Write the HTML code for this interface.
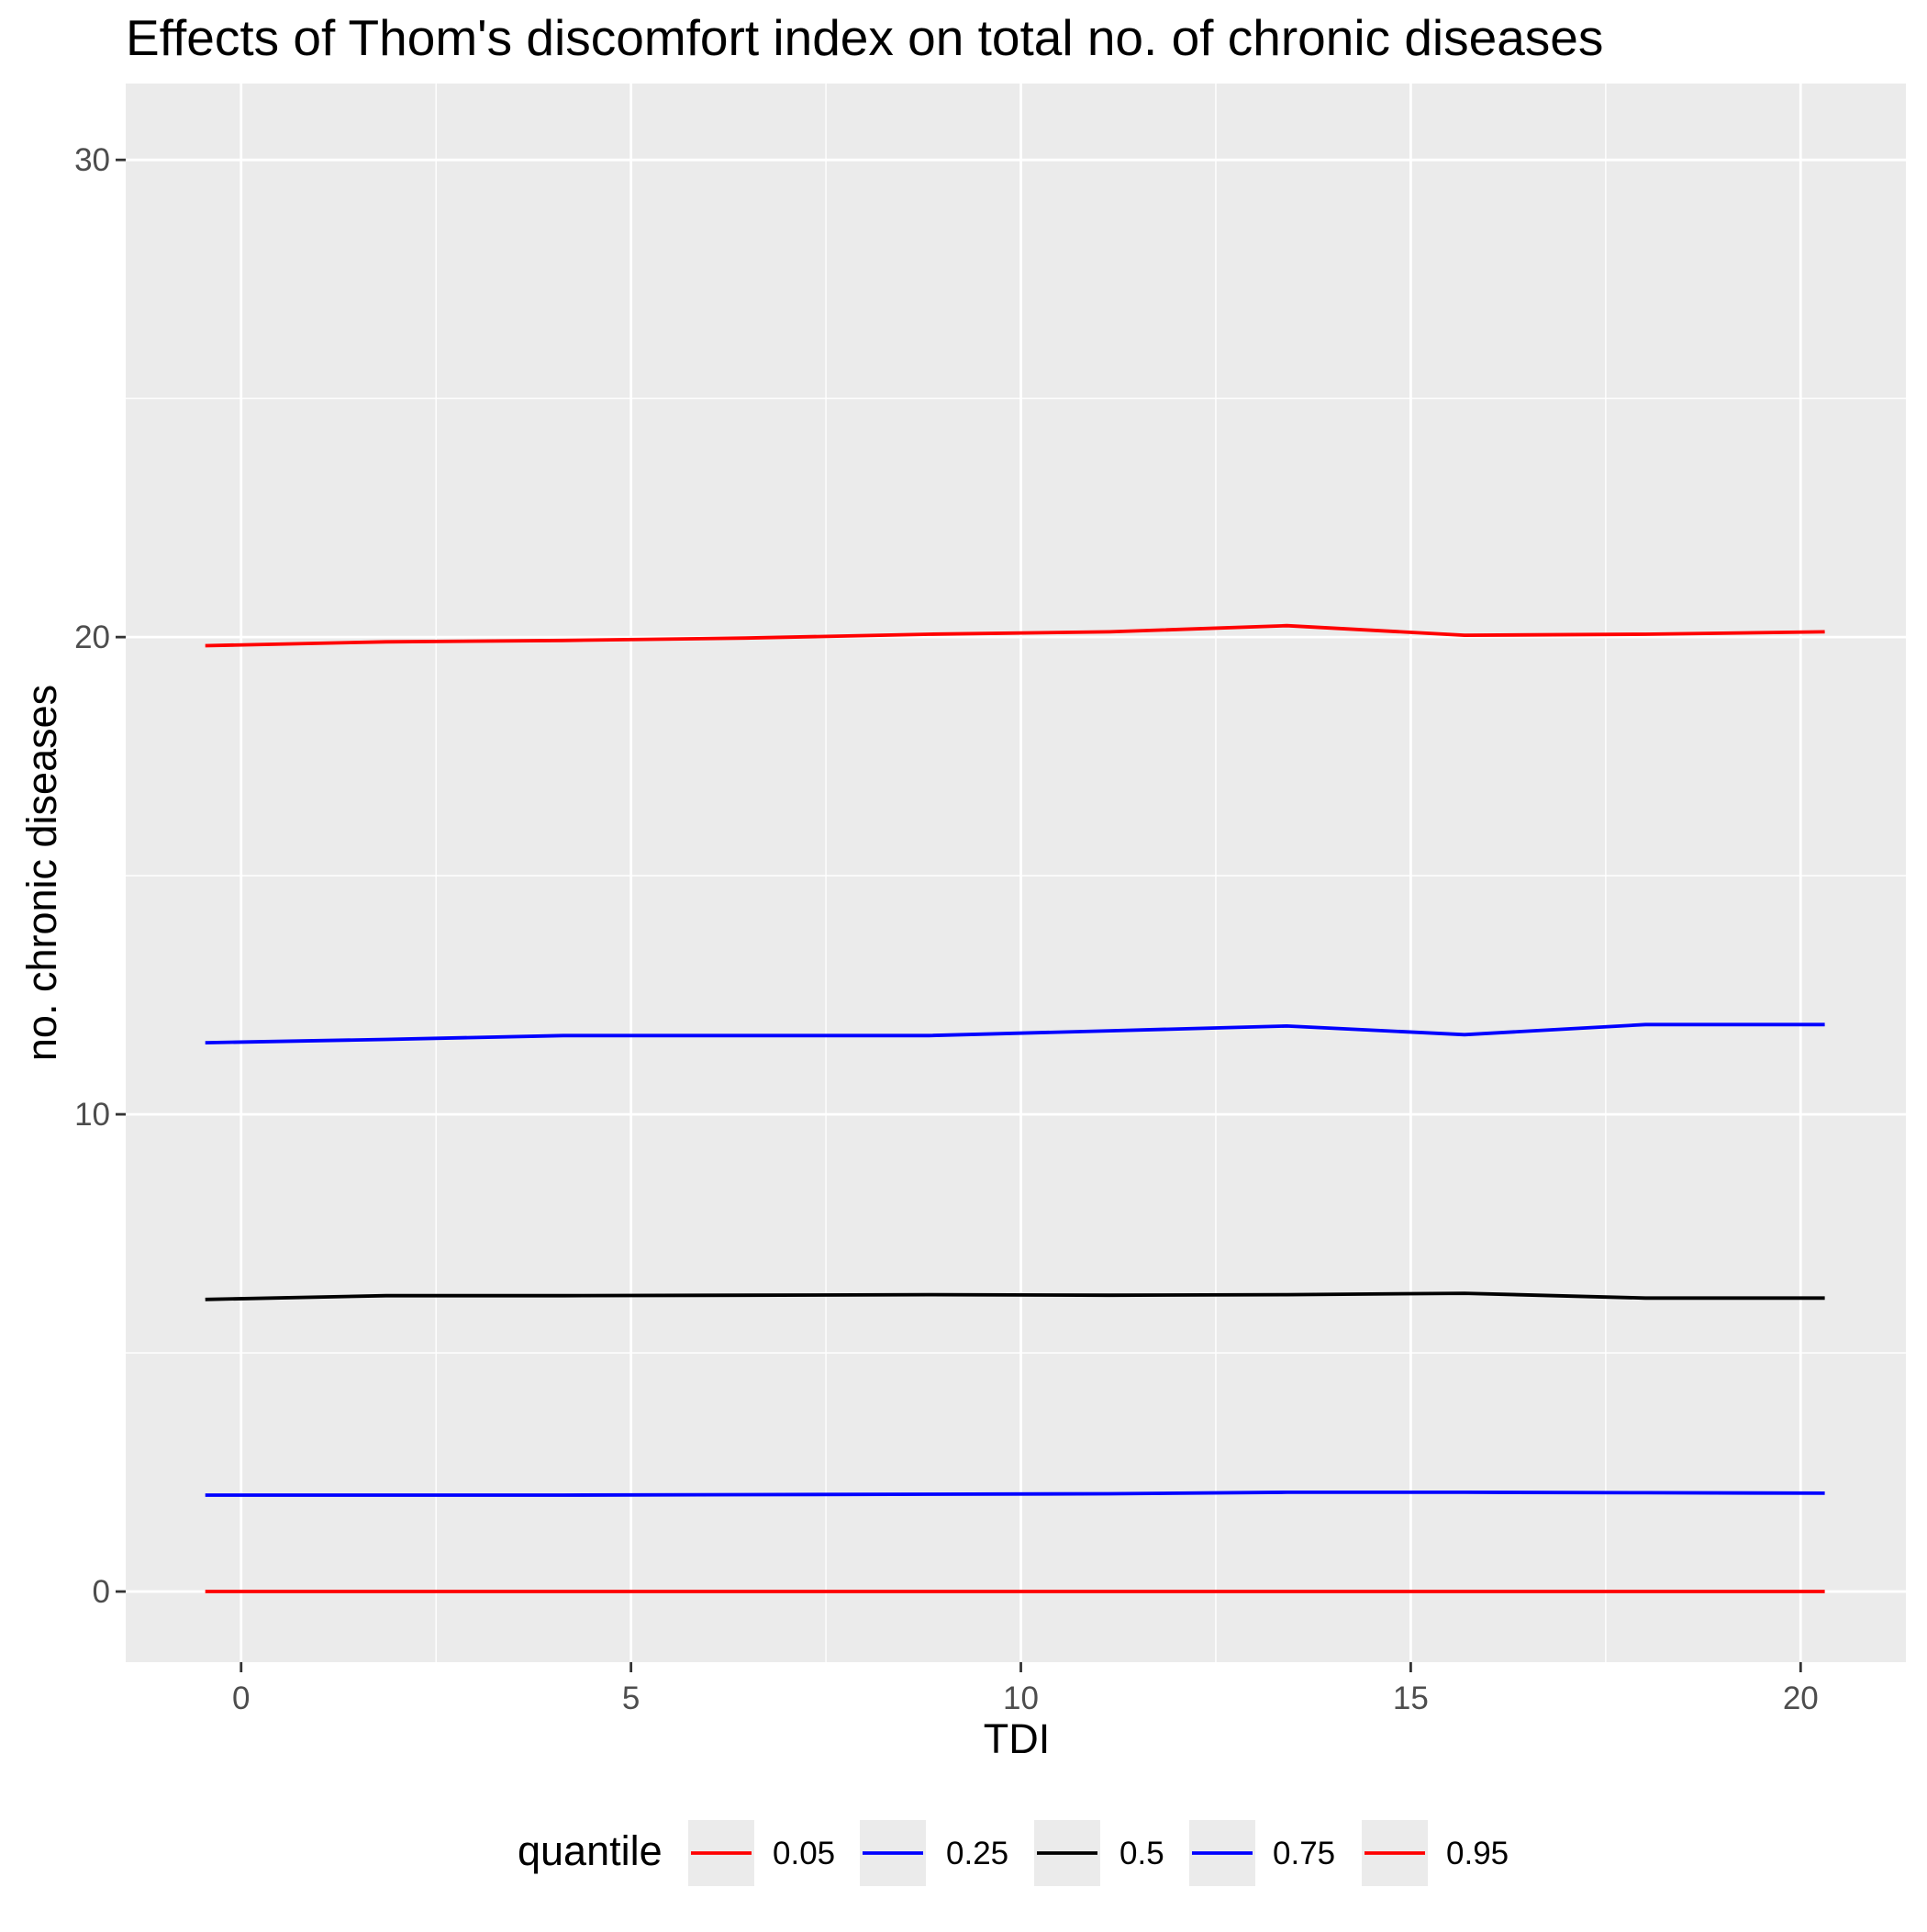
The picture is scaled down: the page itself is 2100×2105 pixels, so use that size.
<!DOCTYPE html>
<html><head><meta charset="utf-8"><style>
html,body{margin:0;padding:0;background:#fff;}
svg text{font-family:"Liberation Sans",Arial,sans-serif;}
</style></head><body>
<svg id="chart" width="2100" height="2100" xmlns="http://www.w3.org/2000/svg">
<rect width="2100" height="2100" fill="#fff"/>
<text x="137" y="60" font-size="55" fill="#000">Effects of Thom's discomfort index on total no. of chronic diseases</text>
<rect x="137" y="91" width="1940" height="1720" fill="#EBEBEB"/>
<g id="grid"></g>
<g id="series"></g>
<g id="axes"></g>
<text x="1108" y="1910" font-size="45" text-anchor="middle" fill="#000">TDI</text>
<text transform="translate(61,951) rotate(-90)" font-size="45" text-anchor="middle" fill="#000">no. chronic diseases</text>
<g id="legend"></g>
</svg>
<script>
const tdi = [-0.46, 1.86, 4.13, 6.47, 8.82, 11.14, 13.41, 15.69, 18.01, 20.31];
const q05 = [0, 0, 0, 0, 0, 0, 0, 0, 0, 0];
const q25 = [2.02, 2.02, 2.02, 2.03, 2.04, 2.05, 2.08, 2.08, 2.07, 2.06];
const q50 = [6.12, 6.2, 6.2, 6.21, 6.22, 6.21, 6.22, 6.25, 6.15, 6.15];
const q75 = [11.5, 11.57, 11.65, 11.65, 11.65, 11.75, 11.85, 11.67, 11.88, 11.88];
const q95 = [19.82, 19.9, 19.93, 19.98, 20.06, 20.11, 20.24, 20.04, 20.06, 20.11];
const seriesNames = ["0.05", "0.25", "0.5", "0.75", "0.95"];
const seriesColors = ["#FF0000", "#0000FF", "#000000", "#0000FF", "#FF0000"];
const xTicks = [0, 5, 10, 15, 20];
const yTicks = [0, 10, 20, 30];
const xMinor = [2.5, 7.5, 12.5, 17.5];
const yMinor = [5, 15, 25];

const NS = "http://www.w3.org/2000/svg";
const PL = 137, PR = 2077, PT = 91, PB = 1811;
const X0 = -1.48, X1 = 21.35, Y0 = -1.48, Y1 = 31.6;
function sx(v){ return PL + (v - X0) / (X1 - X0) * (PR - PL); }
function sy(v){ return PB - (v - Y0) / (Y1 - Y0) * (PB - PT); }
function mk(tag, attrs, parent){ const e = document.createElementNS(NS, tag); for (const k in attrs) e.setAttribute(k, attrs[k]); parent.appendChild(e); return e; }

const grid = document.getElementById('grid');
xMinor.forEach(v => { const l = mk('line', {x1: sx(v), x2: sx(v), y1: PT, y2: PB, stroke: '#fff', 'stroke-width': 1.4}, grid);
    });
yMinor.forEach(v => { const l = mk('line', {x1: PL, x2: PR, y1: sy(v), y2: sy(v), stroke: '#fff', 'stroke-width': 1.4}, grid);
    });
xTicks.forEach(v => { const l = mk('line', {x1: sx(v), x2: sx(v), y1: PT, y2: PB, stroke: '#fff', 'stroke-width': 2.8}, grid);
    });
yTicks.forEach(v => { const l = mk('line', {x1: PL, x2: PR, y1: sy(v), y2: sy(v), stroke: '#fff', 'stroke-width': 2.8}, grid);
    });

const axes = document.getElementById('axes');
xTicks.forEach(v => {
  const t = mk('line', {x1: sx(v), x2: sx(v), y1: PB, y2: PB + 11, stroke: '#333', 'stroke-width': 2.8}, axes);
   
  const tx = mk('text', {x: sx(v), y: PB + 51, 'font-size': 35, 'text-anchor': 'middle', fill: '#4D4D4D'}, axes);
  tx.textContent = v;
   
});
yTicks.forEach(v => {
  const t = mk('line', {x1: PL - 11, x2: PL, y1: sy(v), y2: sy(v), stroke: '#333', 'stroke-width': 2.8}, axes);
   
  const tx = mk('text', {x: PL - 17, y: sy(v) + 12, 'font-size': 35, 'text-anchor': 'end', fill: '#4D4D4D'}, axes);
  tx.textContent = v;
   
});

const allSeries = [q05, q25, q50, q75, q95];
const sg = document.getElementById('series');
allSeries.forEach((arr, i) => {
  const d = arr.map((v, j) => (j ? 'L' : 'M') + sx(tdi[j]).toFixed(1) + ',' + sy(v).toFixed(1)).join(' ');
  const p = mk('path', {d: d, fill: 'none', stroke: seriesColors[i], 'stroke-width': 3.8}, sg);
  
  
});

const lg = document.getElementById('legend');
const lt = mk('text', {x: 564, y: 2032, 'font-size': 45, fill: '#000'}, lg);
lt.textContent = 'quantile';
 
const keyX = [750, 937, 1127, 1296, 1484];
const labX = [842, 1031, 1220, 1387, 1576];
seriesNames.forEach((n, i) => {
  const g = mk('g', {}, lg);
   
  mk('rect', {x: keyX[i], y: 1983, width: 72, height: 72, fill: '#EBEBEB'}, g);
  mk('line', {x1: keyX[i] + 3, x2: keyX[i] + 69, y1: 2019, y2: 2019, stroke: seriesColors[i], 'stroke-width': 3.8}, g);
  const t = mk('text', {x: labX[i], y: 2031, 'font-size': 35, fill: '#000'}, g);
  t.textContent = n;
});
</script>
</body></html>
